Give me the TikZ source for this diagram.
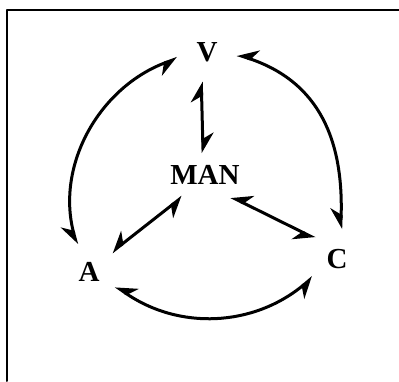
\documentclass[tikz,border=0pt]{standalone}
\usepackage{fontspec}
\setmainfont{Liberation Serif}
\usetikzlibrary{arrows.meta}
\tikzset{
  hb/.tip={Stealth[harpoon,swap,length=18pt,width=22pt,inset=6pt]},
  lhb/.tip={Stealth[harpoon,length=18pt,width=22pt,inset=6pt]}
}
\begin{document}
\begin{tikzpicture}[x=1pt,y=1pt,line cap=round,line join=round,
  lbl/.style={circle,minimum size=60pt,inner sep=0pt,font=\fontsize{29}{29}\selectfont\bfseries},
  lnk/.style={line width=3pt}]
 \useasboundingbox (0,0) rectangle (399,381);
 \draw[line width=2pt] (7,0) -- (7,371) -- (399,371);
 \node[lbl] (V) at (207,329) {V};
 \node[lbl,rectangle,minimum size=0pt,inner xsep=12pt,inner ysep=12pt] (MAN) at (205,206) {MAN};
 \node[lbl] (A) at (89,109) {A};
 \node[lbl] (C) at (337,122) {C};
 \draw[lnk,lhb-lhb] (V.259) -- (MAN.95);
 \draw[lnk,hb-hb] (MAN.-40) -- (C.137);
 \draw[lnk,hb-hb] (MAN.-136) -- (A.41);
 \draw[lnk,hb-hb] (A.114) to[out=105,in=200] (V.192);
 \draw[lnk,hb-hb] (V.355) to[out=-18,in=88,looseness=1.1] (C.83);
 \draw[lnk,hb-hb] (A.-28) to[out=-35,in=220] (C.217);
\end{tikzpicture}
\end{document}
